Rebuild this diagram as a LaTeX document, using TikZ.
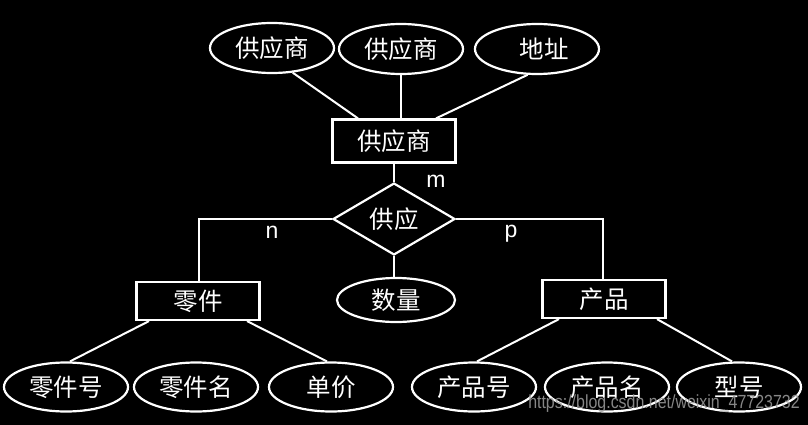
\documentclass[tikz,border=0pt]{standalone}
\usepackage{fontspec}
\usepackage{graphicx}
\newfontfamily\cjk{Noto Sans CJK SC}
\newfontfamily\lat{Liberation Sans}
\usetikzlibrary{shapes.geometric,calc}
\begin{document}
\begin{tikzpicture}[x=1pt,y=-1pt,
  base/.style={draw=white, line width=2.2pt, inner sep=0pt, text=white, font=\cjk\fontsize{24.5}{24.5}\selectfont},
  attr/.style={base, ellipse, minimum width=124pt, minimum height=50pt},
  ent/.style={base, rectangle, minimum width=123pt, minimum height=40pt},
  rel/.style={base, diamond, minimum width=122pt, minimum height=60pt},
  conn/.style={draw=white, line width=2pt},
  card/.style={text=white, inner sep=0pt, font=\lat\fontsize{23}{23}\selectfont},
  wm/.style={text=white!62!black, inner sep=0pt, font=\lat\fontsize{19}{19}\selectfont}
]
\fill[black] (0,0) rectangle (808,425);
\useasboundingbox (0,0) rectangle (808,425);

% top attributes
\node[attr] (e1) at (272,48) {供应商};
\node[attr] (e2) at (401,49) {供应商};
\node[attr] (e3) at (537,49) {\hspace*{14pt}地址};

% entity supplier
\node[ent, minimum height=43pt] (sup) at (394,141) {供应商};

% relationship
\node[rel] (rel) at (394,219) {供应};

% entities
\node[ent, minimum height=38pt] (zero) at (198,301) {零件};
\node[ent, minimum height=38pt] (prod) at (604,299) {产品};

% quantity
\node[attr, minimum width=118pt, minimum height=44pt] (qty) at (396,300) {数量};

% bottom attributes
\node[attr, minimum height=49pt] (a1) at (66,387) {零件号};
\node[attr, minimum height=49pt] (a2) at (196,387) {零件名};
\node[attr, minimum height=49pt] (a3) at (331,387) {单价};
\node[attr, minimum height=49pt] (b1) at (474,387) {产品号};
\node[attr, minimum height=49pt] (b2) at (607,387) {产品名};
\node[attr, minimum height=49pt] (b3) at (739,387) {型号};

% connectors top
\draw[conn] (e1.-50) -- ($(sup.north)+(-36,0)$);
\draw[conn] (e2.south) -- (e2.south |- sup.north);
\draw[conn] (e3.-110) -- ($(sup.north)+(42,0)$);
\draw[conn] (sup.south) -- (rel.north);

% relationship connectors
\draw[conn] (rel.west) -| ($(zero.north)+(1,0)$);
\draw[conn] (rel.east) -| ($(prod.north)+(-1,0)$);
\draw[conn] (rel.south) -- (rel.south |- qty.north);

% cardinalities
\node[card] (m) at (436,181) {m};
\node[card] (n) at (272,232) {n};
\node[card] (p) at (511,234) {p};

% bottom connectors
\draw[conn] ($(zero.south)+(-49,0)$) -- ($(a1.north)+(4,0)$);
\draw[conn] ($(zero.south)+(3,0)$) -- ($(zero.south)+(3,0)$ |- a2.north);
\draw[conn] ($(zero.south)+(49,0)$) -- ($(a3.north)+(-4,0)$);
\draw[conn] ($(prod.south)+(-45,0)$) -- ($(b1.north)+(3,0)$);
\draw[conn] ($(prod.south)+(3,0)$) -- ($(prod.south)+(3,0)$ |- b2.north);
\draw[conn] ($(prod.south)+(53,0)$) -- ($(b3.north)+(-7,0)$);

% watermark
\node[wm, opacity=0.85] (wmk) at (664,404) {\scalebox{0.84}[1]{https://blog.csdn.net/weixin\_47723732}};
\end{tikzpicture}
\end{document}
